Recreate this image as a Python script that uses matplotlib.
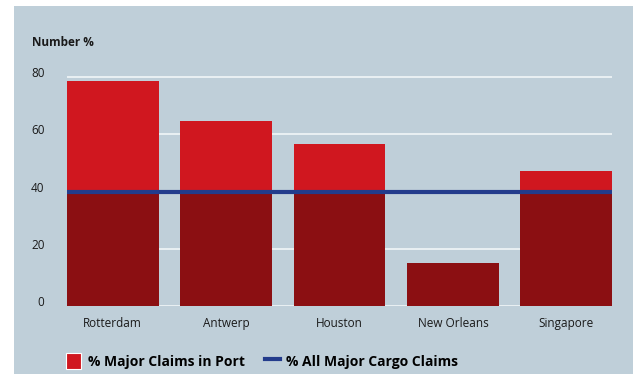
import matplotlib.pyplot as plt
from matplotlib.patches import Patch, Rectangle
from matplotlib.lines import Line2D
import numpy as np

ports = ['Rotterdam', 'Antwerp', 'Houston', 'New Orleans', 'Singapore']
port_claims = [78.5, 64.5, 56.5, 15, 47]
all_claims = 40
yticks = [0, 20, 40, 60, 80]

bg = '#bfcfd9'
red = '#d0171f'
dark = '#8b0f12'
blue = '#233c8c'

plt.rcParams['font.family'] = ['Open Sans', 'DejaVu Sans']

fig = plt.figure(figsize=(6.33, 3.74), dpi=100)
fig.patch.set_facecolor('white')
fig.patches.append(Rectangle((14/633, 0), 1, 368/374, transform=fig.transFigure,
                             facecolor=bg, edgecolor='none', zorder=-10))

ax = fig.add_axes([0.1054, 0.181, 0.862, 0.629])
ax.set_facecolor(bg)
ax.patch.set_alpha(0)

x = np.arange(len(ports))
w = 0.81
lower = [min(v, all_claims) for v in port_claims]
ax.bar(x, port_claims, width=w, color=red, zorder=2)
ax.bar(x, lower, width=w, color=dark, zorder=3)
ax.axhline(all_claims, color=blue, lw=3, zorder=4)

for t in yticks:
    ax.axhline(t, color='#eaf0f3', lw=1.4, zorder=1)

ax.set_xlim(-w/2, len(ports) - 1 + w/2)
ax.set_ylim(0, 82)
ax.set_yticks(yticks)
ax.set_xticks(x)
ax.set_xticklabels(ports, fontsize=8.5, color='#1a1a1a')
ax.set_yticklabels([str(t) for t in yticks], fontsize=8.5, color='#1a1a1a', va='baseline')
ax.tick_params(axis='both', length=0)
ax.tick_params(axis='y', pad=16)
ax.tick_params(axis='x', pad=8)
for s in ax.spines.values():
    s.set_visible(False)

fig.text(32/633, (374-46)/374, 'Number %', fontsize=8.5, fontweight='bold',
         color='#1a1a1a', va='baseline')

handles = [Patch(facecolor=red, edgecolor='white', linewidth=0.8),
           Line2D([], [], color=blue, lw=3)]
labels = ['% Major Claims in Port', '% All Major Cargo Claims']
fig.legend(handles, labels, loc='center left', bbox_to_anchor=(66/633, (374-361)/374),
           ncol=2, frameon=False, borderpad=0, borderaxespad=0,
           handlelength=1.1, handleheight=1.4, handletextpad=0.45,
           columnspacing=1.45, prop={'size': 10, 'weight': 'bold'})

fig.savefig('out.png', dpi=100)
